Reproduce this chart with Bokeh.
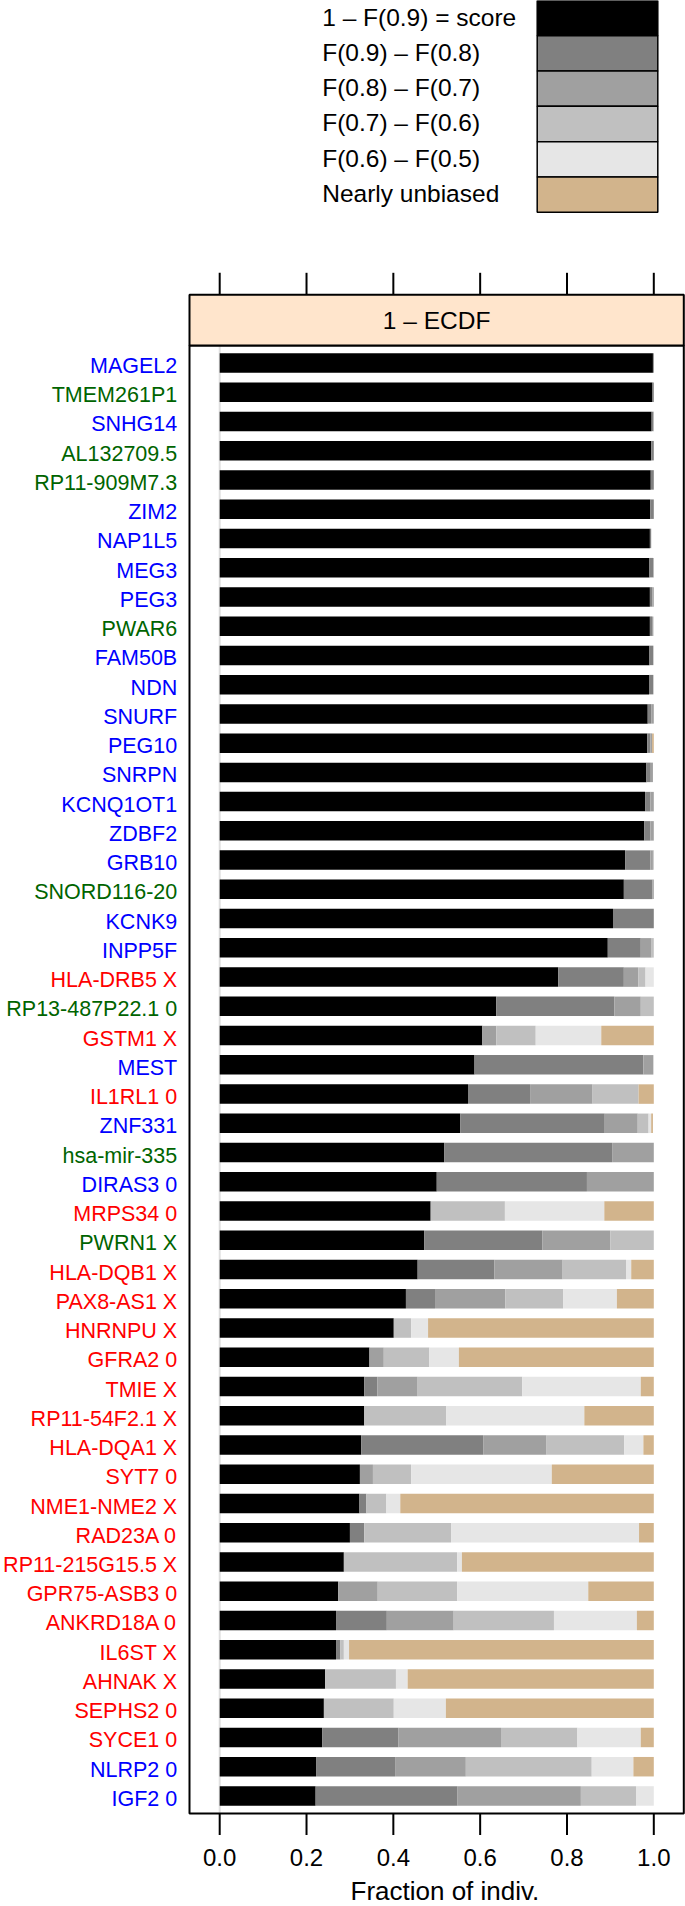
from bokeh.plotting import figure
from bokeh.models import ColumnDataSource, Range1d
from bokeh.embed import file_html
from bokeh.resources import INLINE
from bokeh.core.properties import value

# ---------------- data (top to bottom) ----------------
genes = ["MAGEL2", "TMEM261P1", "SNHG14", "AL132709.5", "RP11-909M7.3", "ZIM2",
         "NAP1L5", "MEG3", "PEG3", "PWAR6", "FAM50B", "NDN", "SNURF", "PEG10",
         "SNRPN", "KCNQ1OT1", "ZDBF2", "GRB10", "SNORD116-20", "KCNK9", "INPP5F",
         "HLA-DRB5 X", "RP13-487P22.1 0", "GSTM1 X", "MEST", "IL1RL1 0", "ZNF331",
         "hsa-mir-335", "DIRAS3 0", "MRPS34 0", "PWRN1 X", "HLA-DQB1 X",
         "PAX8-AS1 X", "HNRNPU X", "GFRA2 0", "TMIE X", "RP11-54F2.1 X",
         "HLA-DQA1 X", "SYT7 0", "NME1-NME2 X", "RAD23A 0", "RP11-215G15.5 X",
         "GPR75-ASB3 0", "ANKRD18A 0", "IL6ST X", "AHNAK X", "SEPHS2 0",
         "SYCE1 0", "NLRP2 0", "IGF2 0"]

B, G, R = "#0000ff", "#006400", "#ff0000"
label_colors = [B, G, B, G, G, B, B, B, B, G, B, B, B, B, B, B, B, B, G, B, B,
                R, G, R, B, R, B, G, B, R, G, R, R, R, R, R, R, R, R, R, R, R,
                R, R, R, R, R, R, B, B]

score    = [.998, .997, .995, .994, .993, .992, .991, .990, .991, .991, .990, .989,
            .986, .985, .983, .980, .978, .934, .931, .906, .894, .780, .637, .605,
            .587, .572, .554, .517, .500, .486, .471, .456, .429, .401, .345, .333,
            .333, .326, .323, .322, .300, .286, .273, .268, .268, .243, .240, .236,
            .222, .221]
f90_f80  = [.002, .003, .004, .006, .007, .008, .003, .009, .006, .005, .009, .010,
            .008, .007, .010, .012, .014, .058, .066, .094, .076, .151, .272, 0,
            .389, .143, .333, .387, .346, 0, .272, .177, .067, 0, 0, .030,
            0, .281, 0, .016, .033, 0, 0, .117, .010, 0, 0, .176,
            .182, .327]
f80_f70  = [0, 0, .001, 0, 0, 0, 0, .001, .003, .003, 0, 0,
            .006, .004, .005, .008, .008, .006, .003, 0, .025, .033, .061, .032,
            .023, .144, .076, .096, .154, 0, .157, .157, .162, 0, .033, .093,
            0, .146, .030, 0, 0, 0, .091, .154, 0, 0, 0, .236,
            .163, .284]
f70_f60  = [0, 0, 0, 0, 0, 0, 0, 0, 0, 0, 0, 0,
            0, 0, 0, 0, 0, .002, 0, 0, .005, .017, .030, .091,
            0, .106, .025, 0, 0, .171, .100, .146, .133, .040, .105, .241,
            .189, .179, .088, .046, .200, .261, .183, .231, .008, .163, .161, .176,
            .290, .127]
f60_f50  = [0, 0, 0, 0, 0, 0, 0, 0, 0, 0, 0, 0,
            0, 0, 0, 0, 0, 0, 0, 0, 0, .019, 0, .151,
            0, 0, .006, 0, 0, .229, 0, .012, .124, .039, .068, .273,
            .318, .044, .324, .032, .433, .011, .302, .191, .012, .027, .120, .146,
            .096, .041]
unbiased = [0, 0, 0, 0, 0, 0, 0, 0, 0, 0, 0, 0,
            0, .004, 0, 0, 0, 0, 0, 0, 0, 0, 0, .121,
            0, .035, .004, 0, 0, .114, 0, .052, .085, .520, .449, .030,
            .160, .024, .235, .584, .034, .442, .151, .039, .702, .567, .479, .030,
            .047, 0]

legend_labels = ["1 \u2013 F(0.9) = score", "F(0.9) \u2013 F(0.8)", "F(0.8) \u2013 F(0.7)",
                 "F(0.7) \u2013 F(0.6)", "F(0.6) \u2013 F(0.5)", "Nearly unbiased"]
seg_colors = ["#000000", "#808080", "#a0a0a0", "#c0c0c0", "#e6e6e6", "#d2b48c"]
x_ticks = [0.0, 0.2, 0.4, 0.6, 0.8, 1.0]
x_tick_labels = ["0.0", "0.2", "0.4", "0.6", "0.8", "1.0"]
strip_label = "1 \u2013 ECDF"
x_title = "Fraction of indiv."

# ---------------- layout helpers (canvas pixels -> data) ----------------
W, H = 685, 1906
X0, XU = 219.2, 434.1           # canvas x of 0 and pixels per unit
ROW = 29.245                    # pixels per bar row
PANEL_BOTTOM = 1813.0


def px_x(px):
    return (px - X0) / XU


def px_y(py):
    return 0.4 + (PANEL_BOTTOM - py) / ROW


n = len(genes)
ypos = [n - i for i in range(n)]
xlim = (px_x(189.0), px_x(683.3))
ylim = (0.4, n + 0.6)
nt = len(x_ticks)

p = figure(width=W, height=H, output_backend="svg", toolbar_location=None,
           x_range=Range1d(px_x(0), px_x(W)), y_range=Range1d(px_y(H), px_y(0)),
           x_axis_location=None, y_axis_location=None, min_border=0,
           min_border_left=0, min_border_right=0, min_border_top=0, min_border_bottom=0)
p.outline_line_color = None
p.grid.visible = False
p.background_fill_color = "white"
p.border_fill_color = "white"

FONT = value("Liberation Sans")

# reference line at origin
p.segment(x0=[0], y0=[ylim[0]], x1=[0], y1=[ylim[1]], line_color="#e0e0e0", line_width=2)

stackers = ["score", "f90_f80", "f80_f70", "f70_f60", "f60_f50", "unbiased"]
source = ColumnDataSource(dict(y=ypos, score=score, f90_f80=f90_f80, f80_f70=f80_f70,
                               f70_f60=f70_f60, f60_f50=f60_f50, unbiased=unbiased))
p.hbar_stack(stackers, y="y", height=2 / 3, fill_color=seg_colors, line_color=None,
             source=source)

# panel border
p.quad(left=[xlim[0]], right=[xlim[1]], bottom=[ylim[0]], top=[ylim[1]],
       fill_color=None, line_color="black", line_width=2)

# strip
strip_top = px_y(294.3)
p.quad(left=[xlim[0]], right=[xlim[1]], bottom=[ylim[1]], top=[strip_top],
       fill_color="#ffe5cc", line_color="black", line_width=2)
p.text(x=[(xlim[0] + xlim[1]) / 2], y=[(ylim[1] + strip_top) / 2], text=[strip_label],
       text_align="center", text_baseline="middle", text_font=FONT,
       text_font_size="24.5px", text_color="black")

# top ticks (above strip) and bottom ticks (below panel)
p.segment(x0=x_ticks, y0=[strip_top] * nt, x1=x_ticks, y1=[px_y(272.3)] * nt,
          line_color="black", line_width=2)
p.segment(x0=x_ticks, y0=[ylim[0]] * nt, x1=x_ticks, y1=[px_y(1834.5)] * nt,
          line_color="black", line_width=2)
p.text(x=x_ticks, y=[px_y(1857.0)] * nt, text=x_tick_labels, text_align="center",
       text_baseline="middle", text_font=FONT, text_font_size="24px",
       text_color="black")

# x-axis title
p.text(x=[px_x(350.0)], y=[px_y(1890.5)], text=[x_title], text_align="left",
       text_baseline="middle", text_font=FONT, text_font_size="26px",
       text_color="black")

# gene labels
p.text(x=[px_x(176.7)] * n, y=ypos, text=genes, text_color=label_colors,
       text_align="right", text_baseline="middle", text_font=FONT,
       text_font_size="21.5px", y_offset=3)

# legend (text left, swatch right)
box_bottom, box_h = 211.7, 211.7 / 6
tops = [px_y(box_bottom - (6 - k) * box_h) for k in range(6)]
bots = [px_y(box_bottom - (5 - k) * box_h) for k in range(6)]
p.quad(left=[px_x(536.7)] * 6, right=[px_x(657.3)] * 6, top=tops, bottom=bots,
       fill_color=seg_colors, line_color="black", line_width=1.5)
p.text(x=[px_x(321.7)] * 6, y=[(t + b) / 2 for t, b in zip(tops, bots)],
       text=legend_labels, text_align="left", text_baseline="middle",
       text_font=FONT, text_font_size="24.5px", text_color="black", y_offset=-1)

open("out.html", "w").write(file_html(p, INLINE))
